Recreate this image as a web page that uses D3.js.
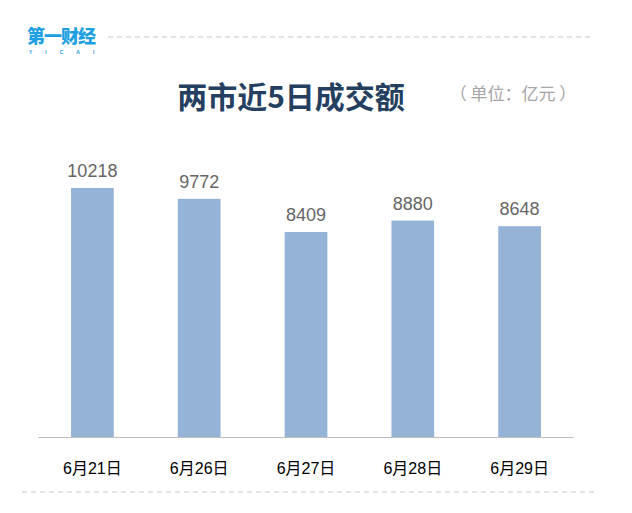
<!DOCTYPE html>
<html><head><meta charset="utf-8">
<script src="https://cdn.jsdelivr.net/npm/d3@7"></script>
<style>body{margin:0;background:#fff}svg{display:block}</style>
</head><body>
<svg id="c" width="632" height="513"></svg>
<script>
const categories = ["6月21日","6月26日","6月27日","6月28日","6月29日"];
const values = [10218, 9772, 8409, 8880, 8648];
const title = "两市近5日成交额";
const unit = "（ 单位：亿元 ）";

const svg = d3.select("#c");
const cjk = "'Noto Sans CJK SC','Microsoft YaHei',sans-serif";

// header
svg.append("text").attr("x",27).attr("y",43).attr("font-family",cjk).attr("font-weight","900")
  .attr("font-size",18).attr("fill","#1ca0e2").attr("letter-spacing","-1").text("第一财经");
svg.append("text").attr("x",29).attr("y",54).attr("font-family","Arial,sans-serif").attr("font-weight","bold")
  .attr("font-size",5).attr("fill","#1ca0e2").attr("letter-spacing","13").text("YICAI");
svg.append("line").attr("x1",108).attr("x2",592).attr("y1",37).attr("y2",37)
  .attr("stroke","#c8c8c8").attr("stroke-width",1).attr("stroke-dasharray","5,4");
svg.append("line").attr("x1",22).attr("x2",594).attr("y1",492).attr("y2",492)
  .attr("stroke","#c8c8c8").attr("stroke-width",1).attr("stroke-dasharray","5,4");

svg.append("text").attr("x",291).attr("y",108).attr("text-anchor","middle").attr("font-family",cjk)
  .attr("font-weight","bold").attr("font-size",30).attr("fill","#243f60").text(title);
svg.append("text").attr("x",513).attr("y",100).attr("text-anchor","middle").attr("font-family",cjk)
  .attr("font-size",17).attr("fill","#a6a6a6").text(unit);

const x = d3.scaleBand().domain(categories).range([39, 573]).paddingInner(0.6).paddingOuter(0.3);
const y = d3.scaleLinear().domain([0, 12000]).range([437, 144.5]);

const g = svg.append("g");
g.selectAll("rect").data(values).join("rect")
  .attr("x",(d,i)=>x(categories[i])).attr("width",x.bandwidth())
  .attr("y",d=>y(d)).attr("height",d=>y(0)-y(d)).attr("fill","#95b3d7");

g.selectAll("text.v").data(values).join("text").attr("class","v")
  .attr("x",(d,i)=>x(categories[i])+x.bandwidth()/2).attr("y",d=>y(d)-11)
  .attr("text-anchor","middle").attr("font-family","Arial,'Liberation Sans',sans-serif")
  .attr("font-size",18).attr("fill","#666666").text(d=>d);

const xa = svg.append("g").attr("transform","translate(0,437)")
  .call(d3.axisBottom(x).tickSize(0).tickPadding(26));
xa.select(".domain").attr("stroke","#bfbfbf").attr("d","M38.5,0.5H573.5");
xa.selectAll("text").attr("font-family","Arial,'Liberation Sans','Noto Sans CJK SC',sans-serif")
  .attr("font-size",16).attr("fill","#000");
</script>
</body></html>
